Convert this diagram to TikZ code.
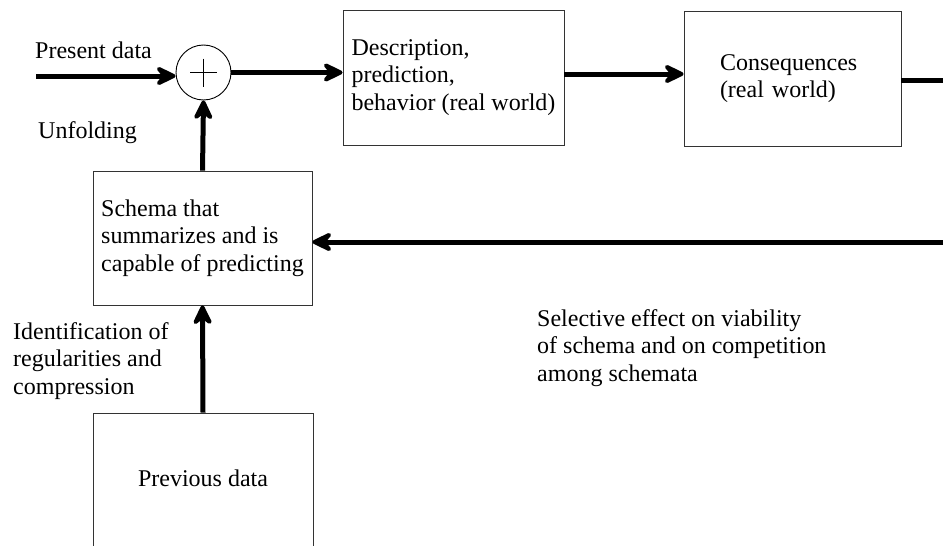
\documentclass[tikz,border=0pt]{standalone}
\usepackage{fontspec}
\setmainfont{Liberation Serif}
\usetikzlibrary{arrows.meta}
\begin{document}
\begin{tikzpicture}[x=1pt,y=-1pt,
  every node/.style={font=\fontsize{24}{27.6}\selectfont},
  block/.style={draw=black!80, line width=0.9pt, rectangle, align=left, inner sep=0pt},
  flow/.style={line width=5pt, -{Stealth[length=26pt,width=25pt,inset=10pt,round]}},
  wire/.style={line width=5pt, line cap=butt},
  lbl/.style={align=left, inner sep=0pt}]
\useasboundingbox (0,0) rectangle (943,546);
\clip (0,0) rectangle (943,546);

% summing junction
\node (sum) [circle, draw, line width=0.9pt, minimum size=55pt, inner sep=0pt] at (203.5,72.5) {};
\draw[line width=0.8pt] (190,72.5) -- (217,72.5) (203.5,58.5) -- (203.5,86.5);

% blocks
\node (desc) [block, minimum width=221pt, minimum height=135pt] at (453.5,77.5)
  {Description,\\prediction,\\behavior (real world)};
\node (cons) [block, minimum width=217pt, minimum height=135pt, text width=145pt] at (792.5,78.5)
  {Consequences\\(real world)};
\node (schema) [block, minimum width=219pt, minimum height=134pt] at (202.5,238)
  {Schema that\\summarizes and is\\capable of predicting};
% this block runs on below the lower edge
\node (prev) [block, align=center, minimum width=220pt, minimum height=170pt] at (203,498)
  {Previous data\\[13pt]\mbox{}};

% labels
\node (lpresent) [lbl, anchor=base west] at (35,58) {Present data};
\node (lunfold) [lbl, anchor=base west] at (38,138) {Unfolding};
\node (lident) [lbl, anchor=west] at (13,361) {Identification of\\regularities and\\compression};
\node (lselect) [lbl, anchor=west] at (537,348) {Selective effect on viability\\of schema and on competition\\among schemata};

% connectors
\coordinate (pin) at (36,76);
\coordinate (cout) at (943,80);
\coordinate (fb) at (943,242);
\draw[flow] (pin) -- (pin -| sum.west);
\draw[flow] (sum.east) -- (sum.east -| desc.west);
\draw[flow] (desc.east |- 0,74) -- (cons.west |- 0,74);
\draw[wire] (cons.east |- cout) -- (cout);
\draw[flow] (fb) -- (fb -| schema.east);
\draw[flow] (schema.north) -- (sum.south);
\draw[flow] (prev.north) -- (schema.south);
\end{tikzpicture}
\end{document}
